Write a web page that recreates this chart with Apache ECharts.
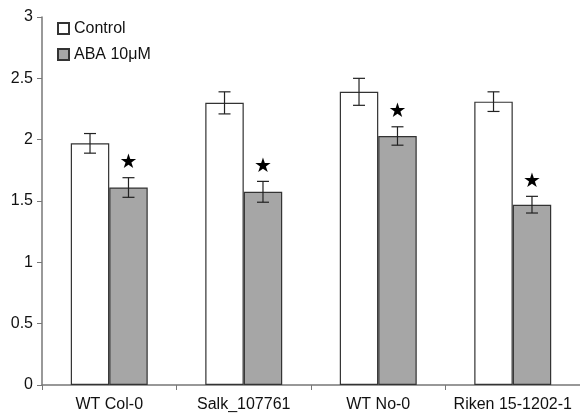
<!DOCTYPE html>
<html><head><meta charset="utf-8">
<script src="https://cdn.jsdelivr.net/npm/echarts@6/dist/echarts.min.js"></script>
<style>html,body{margin:0;padding:0;background:#fff}#c{width:580px;height:413px}</style>
</head><body><div id="c"></div>
<script>
const categories = ['WT Col-0', 'Salk_107761', 'WT No-0', 'Riken 15-1202-1'];
const controlValues = [1.97, 2.30, 2.39, 2.31];
const controlErrors = [0.08, 0.09, 0.11, 0.08];
const abaValues = [1.61, 1.575, 2.03, 1.47];
const abaErrors = [0.08, 0.085, 0.075, 0.068];
const significant = [true, true, true, true];
const yTicks = { min: 0, max: 3, interval: 0.5 };

const GAP = 0.428;
function errSeries(vals, errs, side) {
  return {
    type: 'custom', silent: true, z: 5,
    data: vals.map((v, i) => [i, v, errs[i]]),
    renderItem: function (params, api) {
      const i = api.value(0), v = api.value(1), e = api.value(2);
      const cw = api.size([1, 0])[0];
      const off = side * cw * (1 - GAP) / 4;
      const top = api.coord([i, v + e]);
      const bot = api.coord([i, v - e]);
      const x = top[0] + off, hw = 6;
      const st = { stroke: '#222', lineWidth: 1.2 };
      return { type: 'group', children: [
        { type: 'line', shape: { x1: x, y1: top[1], x2: x, y2: bot[1] }, style: st },
        { type: 'line', shape: { x1: x - hw, y1: top[1], x2: x + hw, y2: top[1] }, style: st },
        { type: 'line', shape: { x1: x - hw, y1: bot[1], x2: x + hw, y2: bot[1] }, style: st }
      ]};
    }
  };
}
const starSeries = {
  type: 'custom', silent: true, z: 6,
  data: abaValues.map((v, i) => [i, v, abaErrors[i], significant[i] ? 1 : 0]),
  renderItem: function (params, api) {
    if (!api.value(3)) return null;
    const i = api.value(0), v = api.value(1), e = api.value(2);
    const cw = api.size([1, 0])[0];
    const off = cw * (1 - GAP) / 4;
    const top = api.coord([i, v + e]);
    return { type: 'text', style: { text: '★', x: top[0] + off, y: top[1] - 15, align: 'center', verticalAlign: 'middle', fontSize: 20, fill: '#000', fontFamily: 'DejaVu Sans' } };
  }
};

const chart = echarts.init(document.getElementById('c'), null, { renderer: 'canvas' });
chart.setOption({
  animation: false,
  textStyle: { fontFamily: 'Liberation Sans, Arial, sans-serif' },
  grid: { left: 42, right: 0, top: 17, bottom: 28 },
  legend: {
    orient: 'vertical', left: 52, top: 15, itemGap: 9, padding: 5,
    itemWidth: 11, itemHeight: 11, icon: 'rect',
    textStyle: { fontSize: 16, color: '#111', fontFamily: 'Liberation Sans, Arial, sans-serif', lineHeight: 17 },
    data: ['Control', 'ABA 10μM']
  },
  xAxis: {
    type: 'category', data: categories,
    axisLine: { lineStyle: { color: '#777', width: 1.5 } },
    axisTick: { show: true, length: 5, lineStyle: { color: '#777' } },
    axisLabel: { color: '#111', fontSize: 16, margin: 12, interval: 0, hideOverlap: false }
  },
  yAxis: {
    type: 'value', min: yTicks.min, max: yTicks.max, interval: yTicks.interval,
    splitLine: { show: false },
    axisLine: { show: true, lineStyle: { color: '#777', width: 1.5 } },
    axisTick: { show: true, length: 5, lineStyle: { color: '#777' } },
    axisLabel: { color: '#111', fontSize: 16, margin: 9 }
  },
  series: [
    { name: 'Control', type: 'bar', data: controlValues, barGap: '0%', barCategoryGap: (GAP * 100) + '%',
      itemStyle: { color: '#fff', borderColor: '#333', borderWidth: 1.2 } },
    { name: 'ABA 10μM', type: 'bar', data: abaValues,
      itemStyle: { color: '#a6a6a6', borderColor: '#333', borderWidth: 1.2 } },
    errSeries(controlValues, controlErrors, -1),
    errSeries(abaValues, abaErrors, 1),
    starSeries
  ]
});
</script></body></html>
